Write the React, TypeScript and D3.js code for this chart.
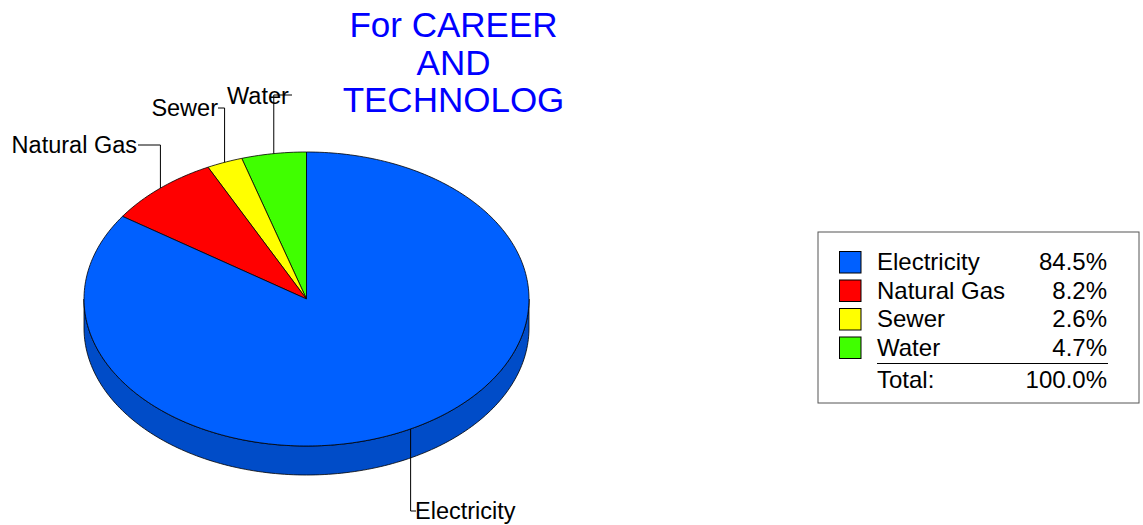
import React from "react";
import * as d3 from "d3";

const categories = ["Electricity", "Natural Gas", "Sewer", "Water"];
const values = [84.5, 8.2, 2.6, 4.7];
const colors = ["#0060FF", "#FF0000", "#FFFF00", "#40FF00"];
const sideColors = ["#004CC8", "#C00000", "#C8C800", "#30C000"];
const titleLines = ["For CAREER", "AND", "TECHNOLOG"];
const totalLabel = "Total:";
const totalValue = "100.0%";

const W = 1143, H = 525;
const cx = 306.5, cy = 299, rx = 222.5, ry = 147, depth = 29;
const font = "Arial, 'Liberation Sans', sans-serif";

// label layouts (text position and leader elbow end)
const labelLayout: Record<string, { tx: number; ty: number; anchor: string; elbow: [number, number][] }> = {
  "Water": { tx: 227, ty: 104, anchor: "start", elbow: [[292, 95]] },
  "Sewer": { tx: 218, ty: 116, anchor: "end", elbow: [[218, 108]] },
  "Natural Gas": { tx: 137, ty: 153, anchor: "end", elbow: [[138, 145]] },
  "Electricity": { tx: 415, ty: 519, anchor: "start", elbow: [[416, 511]] },
};

function pt(theta: number, dy = 0): [number, number] {
  return [cx - rx * Math.sin(theta), cy - ry * Math.cos(theta) + dy];
}

export default function App() {
  const order = [3, 2, 1, 0];
  const data = order.map((i) => ({ name: categories[i], value: values[i], color: colors[i], side: sideColors[i] }));
  const arcs = d3.pie<any>().sort(null).value((d: any) => d.value)(data);
  const line = d3.line();

  const arcPts = (a0: number, a1: number, dy = 0) => {
    const n = Math.max(2, Math.ceil(Math.abs(a1 - a0) / 0.02));
    return d3.range(n + 1).map((k) => pt(a0 + ((a1 - a0) * k) / n, dy));
  };

  const topPaths = arcs.map((a) => {
    const pts: [number, number][] = [[cx, cy], ...arcPts(a.startAngle, a.endAngle)];
    return { d: line(pts) + "Z", fill: a.data.color, key: a.data.name };
  });

  const sidePaths: any[] = [];
  arcs.forEach((a) => {
    const s = Math.max(a.startAngle, Math.PI / 2);
    const e = Math.min(a.endAngle, (3 * Math.PI) / 2);
    if (e > s) {
      const top = arcPts(s, e);
      const bot = arcPts(e, s, depth);
      sidePaths.push({ d: line([...top, ...bot]) + "Z", fill: a.data.side, key: a.data.name });
    }
  });

  const labels = arcs.map((a) => {
    const mid = (a.startAngle + a.endAngle) / 2;
    const anchorPt = pt(mid);
    const lay = labelLayout[a.data.name];
    const e = lay.elbow[0];
    const pts: [number, number][] = [anchorPt, [anchorPt[0], e[1]], e];
    return { name: a.data.name, d: line(pts), lay };
  });

  const legendX = 818, legendY = 232, legendW = 321, legendH = 171;
  const rowY = d3.scaleLinear().domain([0, 1]).range([270, 298.5]);
  const lfs = 24;

  return (
    <svg width={W} height={H} style={{ position: "absolute", left: 0, top: 0, background: "#fff" }}>
      <rect x={0} y={0} width={W} height={H} fill="#fff" />
      {titleLines.map((t, i) => (
        <text key={t} x={453.5} y={37 + i * 37.5} textAnchor="middle" fill="#0000FF" fontFamily={font} fontSize={35}>
          {t}
        </text>
      ))}
      {sidePaths.map((p) => (
        <path key={"s" + p.key} d={p.d} fill={p.fill} stroke="#000" strokeWidth={0.8} strokeLinejoin="round" />
      ))}
      {topPaths.map((p) => (
        <path key={p.key} d={p.d} fill={p.fill} stroke="#000" strokeWidth={0.8} strokeLinejoin="round" />
      ))}
      {labels.map((l) => (
        <g key={"l" + l.name}>
          <path d={l.d!} fill="none" stroke="#000" strokeWidth={1} />
          <text x={l.lay.tx} y={l.lay.ty} textAnchor={l.lay.anchor as any} fontFamily={font} fontSize={23.5} fill="#000">
            {l.name}
          </text>
        </g>
      ))}
      <rect x={legendX} y={legendY} width={legendW} height={legendH} fill="#fff" stroke="#555" strokeWidth={1} />
      {categories.map((c, i) => (
        <g key={"lg" + c}>
          <rect x={839.5} y={rowY(i) - 18.5} width={21.5} height={21.5} fill={colors[i]} stroke="#000" strokeWidth={1} />
          <text x={877} y={rowY(i)} fontFamily={font} fontSize={lfs} fill="#000">{c}</text>
          <text x={1107} y={rowY(i)} textAnchor="end" fontFamily={font} fontSize={lfs} fill="#000">{values[i].toFixed(1)}%</text>
        </g>
      ))}
      <line x1={877} x2={1108} y1={363.5} y2={363.5} stroke="#000" strokeWidth={1} />
      <text x={877} y={388} fontFamily={font} fontSize={lfs} fill="#000">{totalLabel}</text>
      <text x={1107} y={388} textAnchor="end" fontFamily={font} fontSize={lfs} fill="#000">{totalValue}</text>
    </svg>
  );
}
